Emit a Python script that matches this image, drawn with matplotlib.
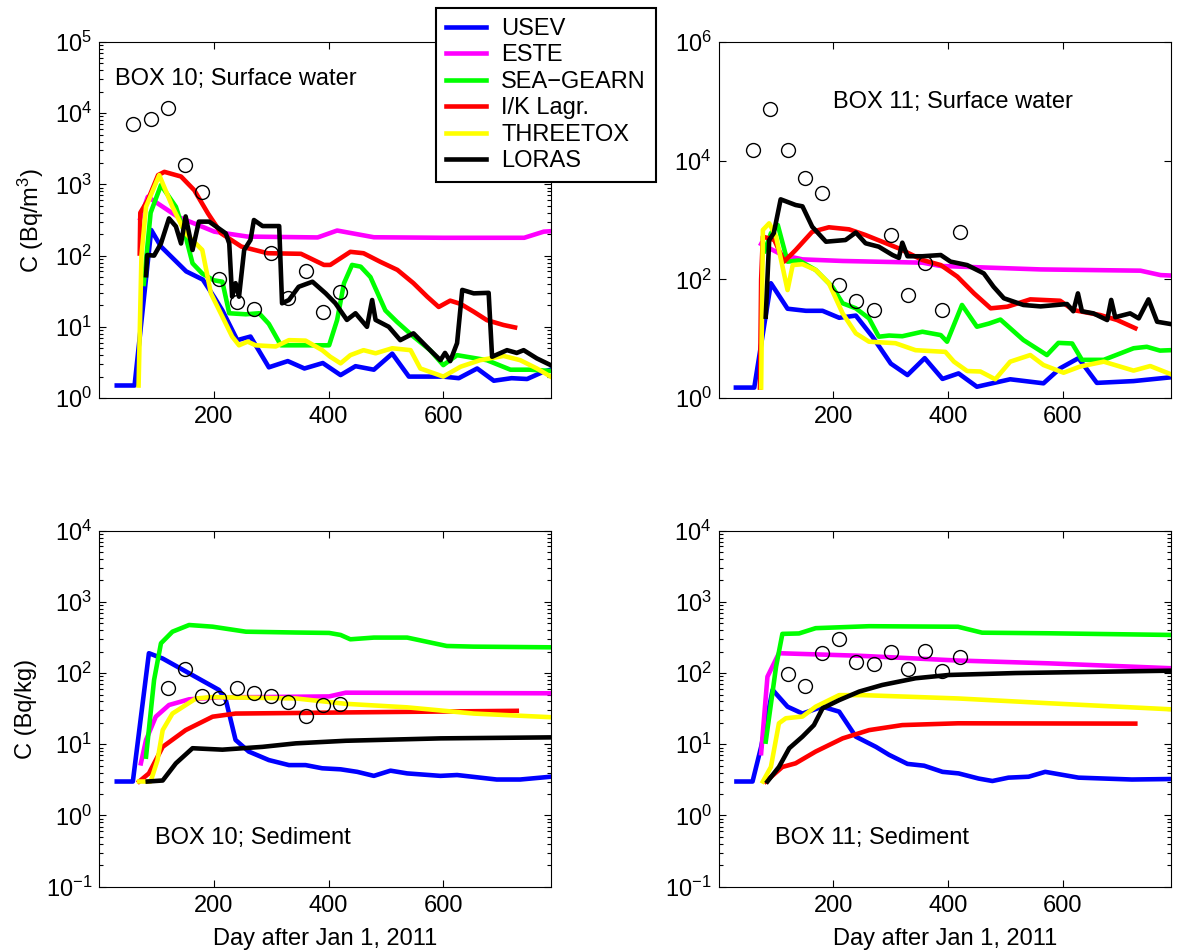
import matplotlib
matplotlib.use("Agg")
import matplotlib.pyplot as plt
from matplotlib.ticker import LogLocator, NullLocator, FixedLocator

plt.rcParams["font.family"] = ["Liberation Sans", "DejaVu Sans"]
plt.rcParams["mathtext.fontset"] = "custom"
plt.rcParams["mathtext.rm"] = "Liberation Sans"
plt.rcParams["mathtext.it"] = "Liberation Sans:italic"
plt.rcParams["mathtext.bf"] = "Liberation Sans:bold"
plt.rcParams["font.size"] = 17

models = ["USEV", "ESTE", "SEA\u2212GEARN", "I/K Lagr.", "THREETOX", "LORAS"]
colors = ["#0000ff", "#ff00ff", "#00ff00", "#ff0000", "#ffff00", "#000000"]

# ---- BOX 10, surface water (Bq/m3) ----
s10_usev_d = [31, 62, 91, 108, 152, 181, 201, 215, 241, 264, 296, 329, 358, 390, 421, 447, 479, 511, 540, 600, 627, 659, 688, 719, 746, 775, 787]
s10_usev_c = [1.5, 1.5, 229, 134, 60, 46, 26, 17, 6.5, 7.3, 2.7, 3.3, 2.6, 3.1, 2.1, 2.8, 2.5, 4.2, 2.0, 2.0, 1.9, 2.6, 1.75, 1.9, 1.85, 2.35, 2.5]
s10_este_d = [72, 85, 137, 201, 259, 381, 415, 479, 600, 741, 775, 787]
s10_este_c = [333, 670, 352, 217, 185, 180, 225, 181, 178, 178, 217, 220]
s10_sea_d = [78, 90, 108, 134, 151, 163, 180, 200, 215, 227, 256, 279, 296, 317, 343, 401, 415, 427, 441, 456, 473, 499, 519, 548, 577, 600, 624, 676, 717, 751, 787]
s10_sea_c = [40, 400, 980, 485, 186, 78, 56, 45, 43, 15.5, 15, 15.5, 11, 5.5, 5.5, 5.5, 12.5, 41, 74, 70, 50, 17, 11.8, 7.3, 4.7, 2.9, 4.0, 3.4, 2.5, 2.5, 2.4]
s10_ik_d = [71, 72, 85, 103, 114, 143, 166, 190, 213, 248, 294, 352, 392, 403, 438, 461, 490, 520, 548, 572, 592, 612, 630, 653, 676, 705, 725]
s10_ik_c = [107, 400, 600, 1350, 1500, 1290, 830, 390, 205, 134, 108, 106, 74, 74, 113, 108, 82, 63, 41, 26.5, 19, 23.3, 21, 16.3, 12.4, 10.6, 9.8]
s10_three_d = [69, 74, 82, 105, 128, 151, 180, 195, 215, 232, 244, 259, 273, 308, 331, 360, 389, 403, 421, 438, 461, 482, 511, 543, 560, 600, 630, 664, 705, 734, 763, 787]
s10_three_c = [1.5, 100, 485, 1350, 485, 205, 120, 29.5, 13.9, 7.3, 5.5, 6.2, 5.5, 5.3, 6.5, 6.4, 4.7, 3.8, 3.07, 4.0, 4.7, 4.25, 5.0, 4.7, 2.6, 2.0, 2.75, 3.4, 3.9, 3.4, 2.6, 2.0]
s10_loras_d = [82, 84, 96, 108, 122, 134, 143, 151, 163, 174, 192, 221, 227, 232, 238, 244, 253, 264, 270, 285, 314, 319, 331, 348, 372, 395, 412, 432, 447, 467, 476, 482, 505, 525, 548, 577, 595, 603, 612, 624, 633, 653, 679, 685, 711, 728, 740, 763, 787]
s10_loras_c = [53, 102, 100, 148, 333, 257, 148, 355, 120, 300, 300, 205, 148, 26.5, 41, 26.5, 120, 166, 316, 260, 260, 21.4, 23.8, 36.5, 43, 29.5, 21.4, 12.5, 15.5, 10, 23.8, 12.5, 10, 6.5, 8.1, 4.7, 3.4, 4.3, 3.3, 5.9, 33, 29.5, 30, 3.8, 4.7, 4.3, 4.7, 3.6, 2.9]
s10_obs_d = [60, 90, 120, 150, 180, 210, 240, 270, 300, 330, 360, 390, 420]
s10_obs_c = [7160, 8400, 12000, 1870, 790, 46.6, 22, 18, 108, 25.8, 60, 16, 30.6]

# ---- BOX 11, surface water (Bq/m3) ----
s11_usev_d = [30, 62, 91, 120, 152, 181, 210, 239, 268, 300, 329, 359, 390, 418, 450, 508, 566, 595, 627, 659, 723, 787]
s11_usev_c = [1.5, 1.5, 86, 32, 29.5, 29.5, 22.5, 24.5, 10.8, 3.8, 2.44, 4.7, 2.1, 2.6, 1.55, 2.07, 1.77, 3.17, 4.7, 1.8, 1.93, 2.23]
s11_este_d = [74, 111, 146, 216, 355, 387, 561, 735, 770, 787]
s11_este_c = [395, 257, 217, 204, 191, 168, 147, 140, 118, 116]
s11_sea_d = [80, 91, 103, 120, 140, 169, 198, 216, 239, 262, 279, 297, 320, 355, 387, 398, 424, 450, 471, 491, 531, 572, 592, 616, 633, 671, 723, 746, 769, 787]
s11_sea_c = [300, 597, 824, 199, 208, 144, 75, 39.5, 32.5, 22, 10.8, 11.3, 11, 13.1, 11.5, 8.9, 37, 15.9, 18, 21, 9.5, 5.3, 8.5, 8.3, 4.4, 4.4, 6.9, 7.3, 6.3, 6.4]
s11_ik_d = [72, 74, 77, 97, 114, 134, 163, 192, 227, 256, 314, 355, 387, 416, 445, 474, 503, 543, 595, 618, 665, 694, 726]
s11_ik_c = [1.5, 100, 525, 460, 199, 311, 633, 754, 697, 558, 332, 212, 174, 111, 58, 32.5, 34.6, 46, 43.6, 30.4, 25, 20.7, 15]
s11_three_d = [74, 77, 88, 100, 120, 129, 146, 169, 192, 216, 239, 262, 308, 343, 395, 410, 433, 456, 482, 508, 543, 566, 601, 630, 671, 723, 752, 787]
s11_three_c = [1.5, 680, 880, 525, 66, 174, 180, 144, 86, 26.7, 12.3, 8.9, 8.4, 6.4, 6.0, 4.1, 2.85, 2.8, 2.07, 4.1, 5.3, 3.6, 2.67, 3.4, 4.1, 2.9, 3.46, 2.54]
s11_loras_d = [82, 88, 96, 108, 134, 146, 163, 187, 221, 239, 256, 279, 303, 314, 320, 329, 355, 387, 404, 433, 462, 479, 497, 531, 561, 607, 618, 626, 633, 653, 677, 684, 691, 717, 732, 749, 764, 787]
s11_loras_c = [23.5, 460, 600, 2230, 1790, 1700, 770, 431, 460, 615, 405, 355, 257, 230, 415, 245, 245, 257, 199, 174, 126, 75, 48, 37, 35, 38.4, 29, 58, 29, 26.7, 20.6, 45, 23, 26.7, 22, 46, 19.3, 17.7]
s11_obs_d = [60, 90, 120, 150, 180, 210, 240, 270, 300, 330, 360, 390, 420]
s11_obs_c = [15100, 74000, 15100, 5050, 2810, 80, 44, 31, 558, 54, 191, 31, 633]

# ---- BOX 10, sediment (Bq/kg) ----
d10_usev_d = [31, 59, 87, 111, 209, 221, 238, 261, 296, 331, 360, 389, 421, 450, 479, 508, 537, 595, 624, 693, 734, 787]
d10_usev_c = [3.0, 3.0, 190, 160, 58, 42, 11.5, 7.9, 6.0, 5.1, 5.1, 4.6, 4.45, 4.1, 3.6, 4.26, 3.9, 3.6, 3.7, 3.2, 3.2, 3.5]
d10_este_d = [73, 82, 99, 122, 157, 209, 284, 401, 430, 787]
d10_este_c = [5.4, 11.5, 24.4, 35.6, 42.8, 45.7, 46, 47, 53, 52]
d10_sea_d = [82, 96, 108, 128, 157, 198, 256, 343, 401, 421, 438, 479, 537, 606, 653, 787]
d10_sea_c = [6.7, 80, 262, 381, 473, 448, 381, 371, 366, 343, 298, 315, 315, 240, 235, 230]
d10_ik_d = [70, 87, 111, 151, 198, 238, 343, 430, 728]
d10_ik_c = [3.0, 3.9, 9.2, 15.8, 24.4, 27, 27.5, 28, 29.5]
d10_three_d = [70, 90, 102, 111, 128, 169, 198, 343, 430, 537, 653, 787]
d10_three_c = [3.0, 3.0, 6.0, 15.8, 27, 44, 46, 44, 37, 33, 27, 24]
d10_loras_d = [85, 111, 134, 163, 215, 285, 343, 430, 595, 787]
d10_loras_c = [3.0, 3.1, 5.4, 8.8, 8.4, 9.2, 10.3, 11.2, 12.1, 12.5]
d10_obs_d = [120, 150, 180, 210, 240, 270, 300, 330, 360, 390, 420]
d10_obs_c = [61, 113, 47.6, 44, 61, 53, 47.6, 39.6, 25, 35.6, 36.5]

# ---- BOX 11, sediment (Bq/kg) ----
d11_usev_d = [31, 59, 74, 94, 120, 146, 181, 210, 239, 274, 297, 329, 358, 390, 418, 453, 477, 505, 540, 569, 627, 720, 787]
d11_usev_c = [3.0, 3.0, 9.2, 58, 33.7, 27, 33.7, 28.7, 12.8, 9.2, 7.1, 5.3, 5.0, 4.1, 3.9, 3.3, 3.05, 3.4, 3.5, 4.1, 3.4, 3.2, 3.25]
d11_este_d = [74, 85, 105, 245, 417, 575, 787]
d11_este_c = [7.5, 89, 190, 175, 150, 137, 117]
d11_sea_d = [82, 100, 111, 140, 169, 262, 417, 459, 575, 787]
d11_sea_c = [10.9, 123, 355, 360, 427, 455, 447, 369, 362, 343]
d11_ik_d = [82, 111, 134, 169, 216, 262, 320, 417, 726]
d11_ik_c = [3.0, 4.8, 5.4, 7.9, 12.1, 15.8, 18.6, 19.7, 19.5]
d11_three_d = [77, 91, 105, 117, 146, 169, 210, 250, 417, 575, 787]
d11_three_c = [3.0, 4.8, 19.7, 23.2, 24.5, 33.7, 49, 49, 44, 37.7, 31]
d11_loras_d = [85, 105, 123, 146, 166, 181, 210, 245, 285, 343, 401, 517, 787]
d11_loras_c = [3.0, 4.8, 8.8, 12.8, 18.6, 32, 41.7, 55, 68, 84.5, 94, 100, 108]
d11_obs_d = [120, 150, 180, 210, 240, 270, 300, 330, 360, 390, 420]
d11_obs_c = [96, 66.5, 194, 298, 142, 136, 196, 113, 206, 108, 168]


def draw(ax, series, obs_d, obs_c, ylim, yticks, minor, label, lx, ly):
    for (d, c), name, col in zip(series, models, colors):
        ax.plot(d, c, color=col, lw=3.3, label=name, solid_joinstyle="round")
    ax.plot(obs_d, obs_c, "o", mfc="none", mec="k", ms=10, mew=1)
    ax.set_yscale("log")
    ax.set_xlim(0, 788)
    ax.set_ylim(*ylim)
    ax.xaxis.set_major_locator(FixedLocator([200, 400, 600]))
    ax.yaxis.set_major_locator(FixedLocator(yticks))
    if minor:
        ax.yaxis.set_minor_locator(LogLocator(base=10, subs=range(2, 10), numticks=20))
    else:
        ax.yaxis.set_minor_locator(NullLocator())
    ax.tick_params(which="both", direction="in", top=True, right=True, width=0.8)
    ax.tick_params(which="major", length=5)
    ax.tick_params(which="minor", length=3)
    ax.tick_params(axis="x", pad=6)
    ax.tick_params(axis="y", pad=5)
    ax.text(lx, ly, label, transform=ax.transAxes, ha="left", va="center", fontsize=17)


fig = plt.figure(figsize=(11.77, 9.52), dpi=100)
w, h = 0.3842, 0.374
ax1 = fig.add_axes([0.0841, 0.5819, w, h])
ax2 = fig.add_axes([0.6106, 0.5819, w, h])
ax3 = fig.add_axes([0.0841, 0.0686, w, h])
ax4 = fig.add_axes([0.6106, 0.0686, w, h])

draw(ax1, [(s10_usev_d, s10_usev_c), (s10_este_d, s10_este_c), (s10_sea_d, s10_sea_c),
           (s10_ik_d, s10_ik_c), (s10_three_d, s10_three_c), (s10_loras_d, s10_loras_c)],
     s10_obs_d, s10_obs_c, (1, 1e5), [1, 10, 1e2, 1e3, 1e4, 1e5], True,
     "BOX 10; Surface water", 0.035, 0.896)
draw(ax2, [(s11_usev_d, s11_usev_c), (s11_este_d, s11_este_c), (s11_sea_d, s11_sea_c),
           (s11_ik_d, s11_ik_c), (s11_three_d, s11_three_c), (s11_loras_d, s11_loras_c)],
     s11_obs_d, s11_obs_c, (1, 1e6), [1, 1e2, 1e4, 1e6], False,
     "BOX 11; Surface water", 0.252, 0.832)
draw(ax3, [(d10_usev_d, d10_usev_c), (d10_este_d, d10_este_c), (d10_sea_d, d10_sea_c),
           (d10_ik_d, d10_ik_c), (d10_three_d, d10_three_c), (d10_loras_d, d10_loras_c)],
     d10_obs_d, d10_obs_c, (0.1, 1e4), [0.1, 1, 10, 1e2, 1e3, 1e4], True,
     "BOX 10; Sediment", 0.124, 0.136)
draw(ax4, [(d11_usev_d, d11_usev_c), (d11_este_d, d11_este_c), (d11_sea_d, d11_sea_c),
           (d11_ik_d, d11_ik_c), (d11_three_d, d11_three_c), (d11_loras_d, d11_loras_c)],
     d11_obs_d, d11_obs_c, (0.1, 1e4), [0.1, 1, 10, 1e2, 1e3, 1e4], True,
     "BOX 11; Sediment", 0.1245, 0.136)

ax1.set_ylabel("C (Bq/m$^{3}$)", labelpad=6)
ax3.set_ylabel("C (Bq/kg)", labelpad=6)
ax3.set_xlabel("Day after Jan 1, 2011", labelpad=8)
ax4.set_xlabel("Day after Jan 1, 2011", labelpad=8)

handles, labels = ax1.get_legend_handles_labels()
leg = fig.legend(handles[:6], labels[:6], loc="upper left", bbox_to_anchor=(0.3702, 0.9916),
                 frameon=True, fancybox=False, edgecolor="k", framealpha=1,
                 borderpad=0.42, labelspacing=0.19, handlelength=1.7, handletextpad=0.65,
                 borderaxespad=0, fontsize=17)
leg.get_frame().set_linewidth(1.5)

fig.savefig("out.png", dpi=100)
